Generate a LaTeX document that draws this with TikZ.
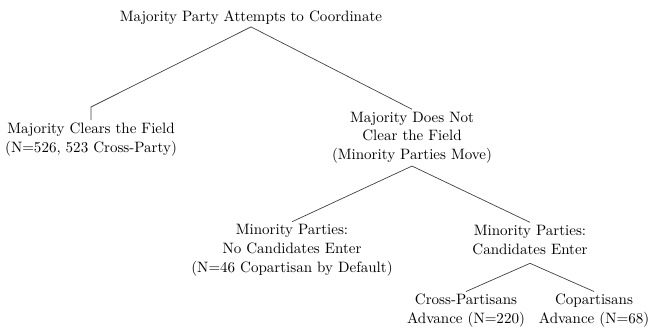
\documentclass[tikz,border=0pt]{standalone}
\begin{document}
\begin{tikzpicture}[x=0.6452pt,y=-0.6452pt,
  lbl/.style={align=center, anchor=base, inner sep=1.6pt, font=\fontsize{9.7pt}{12pt}\selectfont},
  edge/.style={draw=black!75, line width=0.45pt}]
\useasboundingbox (0,0) rectangle (649,332);
\node[lbl] (root) at (251,21) {Majority Party Attempts to Coordinate};
\node[lbl] (clear) at (91,152) {Majority Clears the Field\\(N=526, 523 Cross-Party)};
\node[lbl] (notclear) at (412,159.5) {Majority Does Not\\Clear the Field\\(Minority Parties Move)};
\node[lbl] (noenter) at (292,272) {Minority Parties:\\No Candidates Enter\\(N=46 Copartisan by Default)};
\node[lbl] (enter) at (530,254) {Minority Parties:\\Candidates Enter};
\node[lbl] (cross) at (466,323.5) {Cross-Partisans\\Advance (N=220)};
\node[lbl] (copart) at (594,323.5) {Copartisans\\Advance (N=68)};
\coordinate (lbend) at (91,107);
\draw[edge] (root.south) -- (lbend) -- (clear.north);
\draw[edge] (root.south) -- (notclear.north);
\draw[edge] (notclear.south) -- (noenter.north);
\draw[edge] (notclear.south) -- (enter.north);
\draw[edge] ([yshift=-4pt]enter.south) -- (cross.north);
\draw[edge] ([yshift=-4pt]enter.south) -- (copart.north);
\end{tikzpicture}
\end{document}
